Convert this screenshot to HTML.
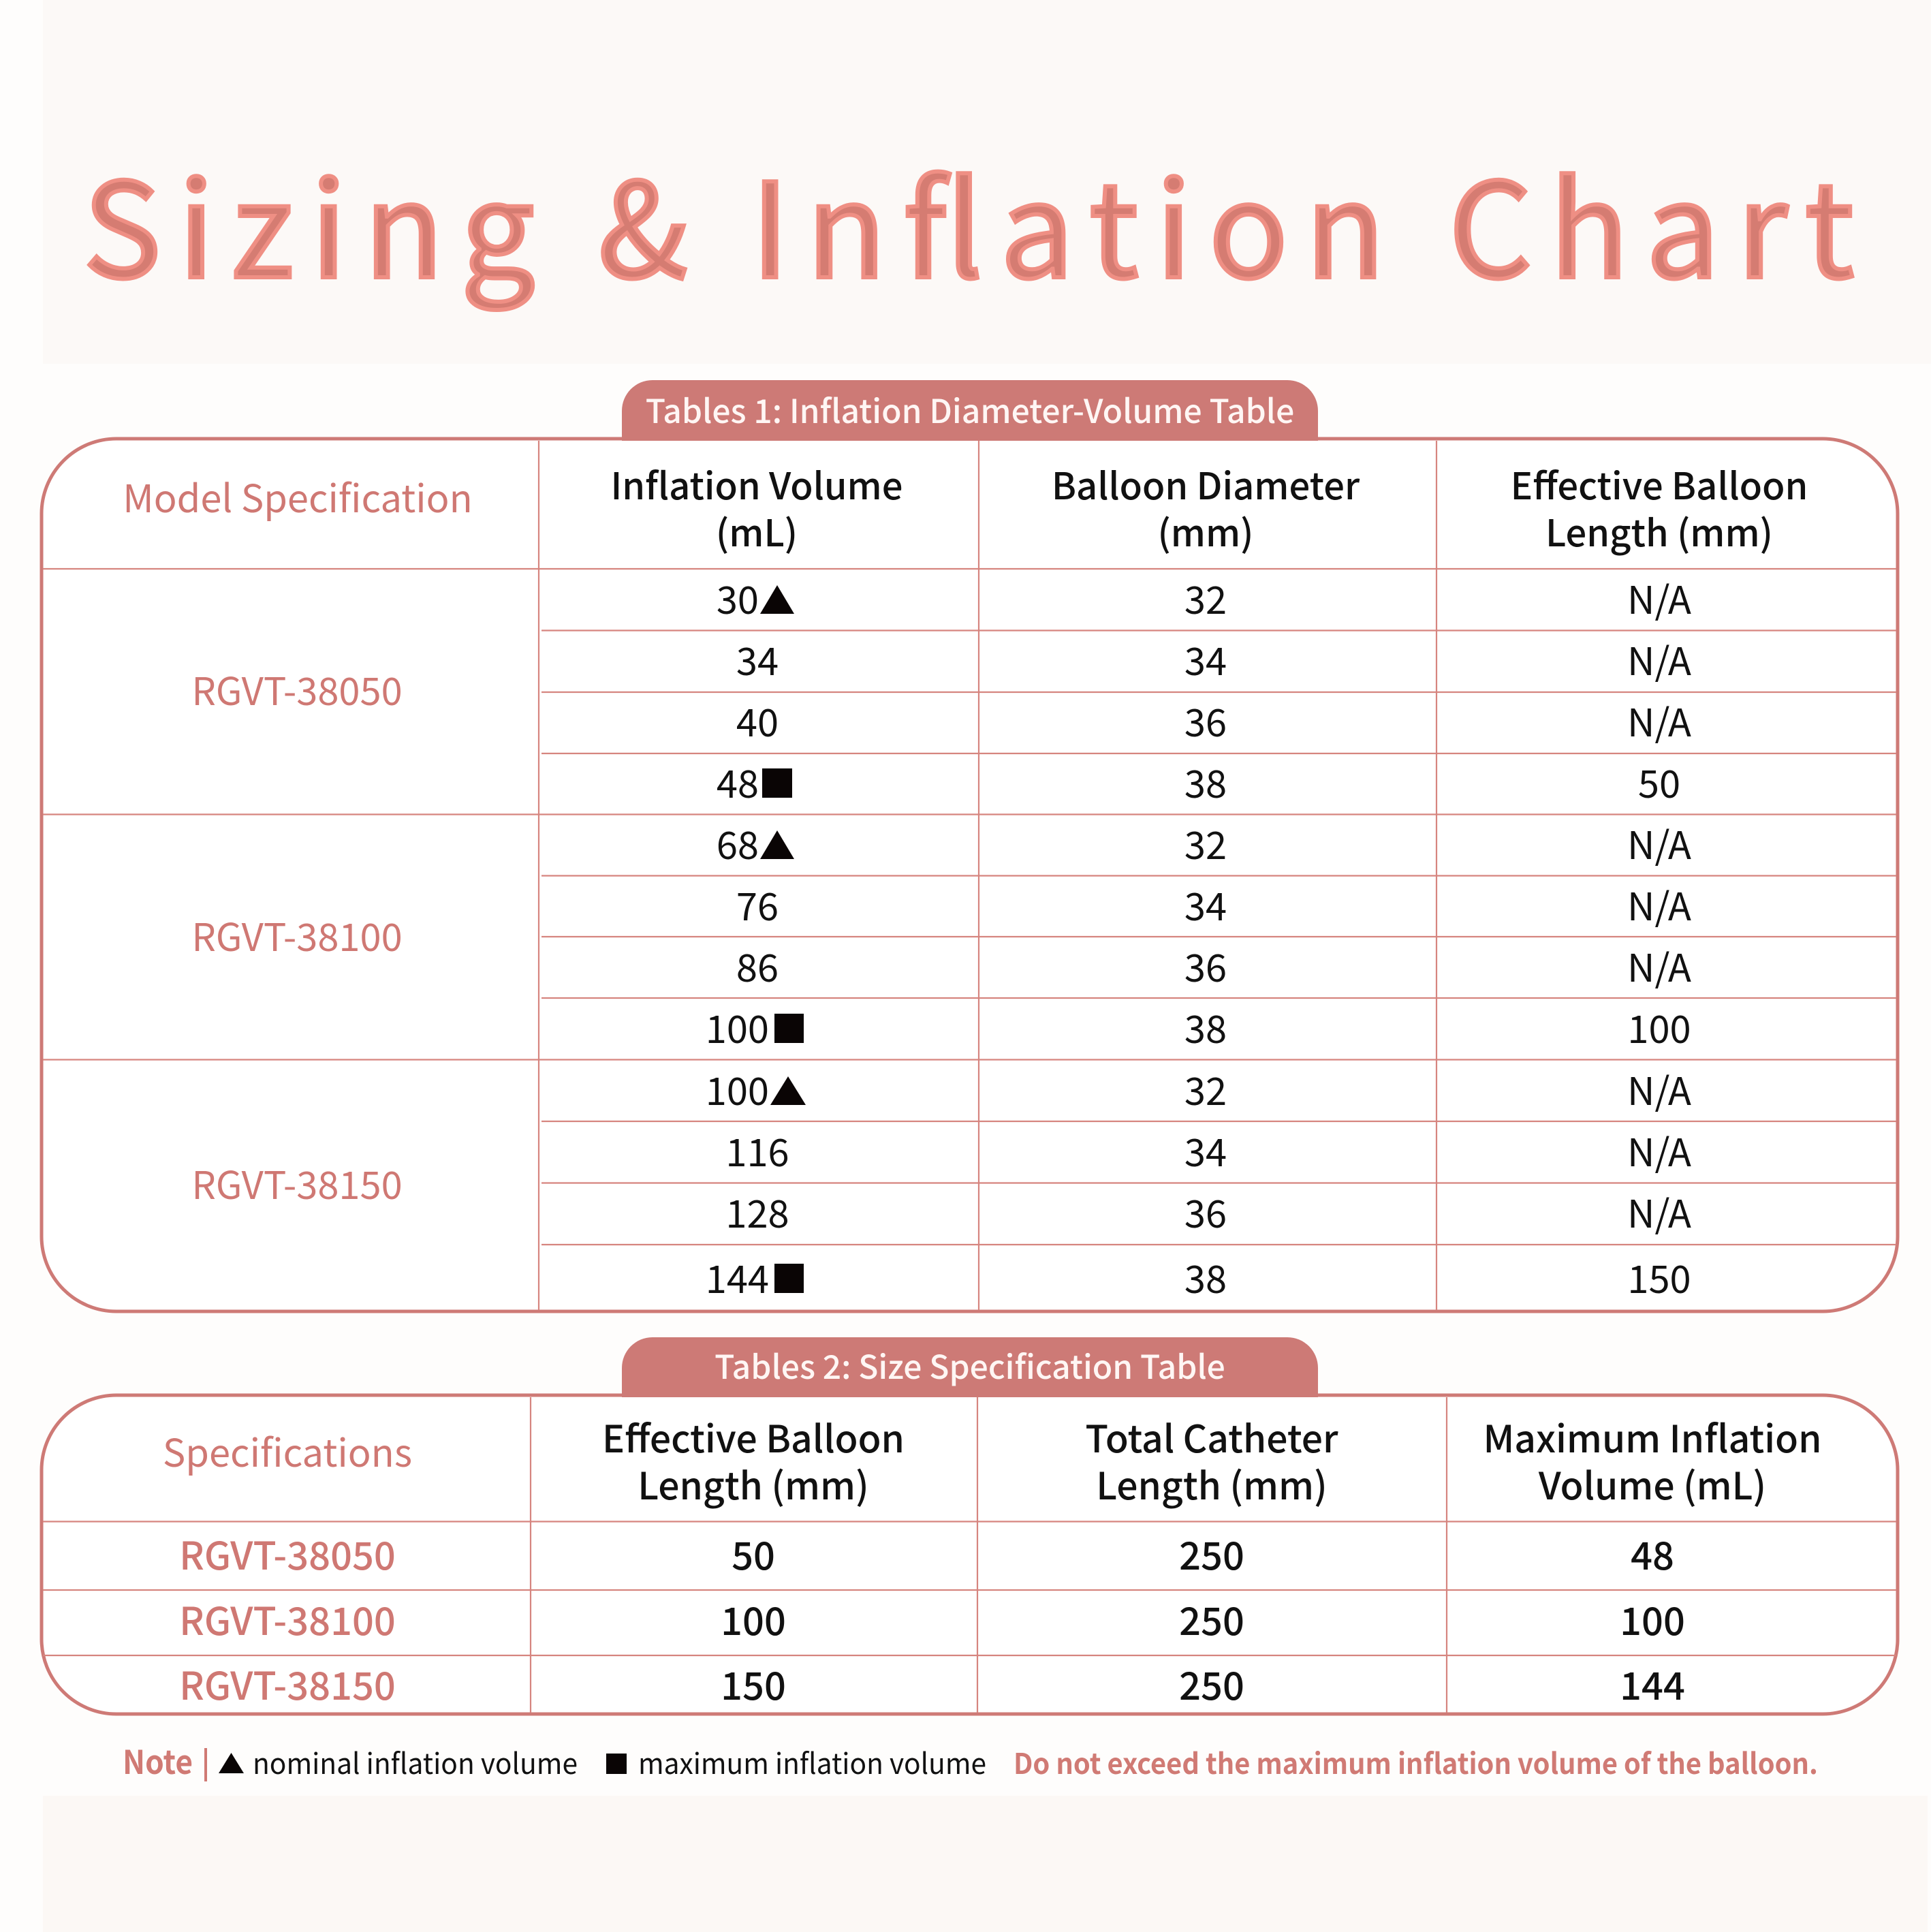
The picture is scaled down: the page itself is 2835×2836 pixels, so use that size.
<!DOCTYPE html>
<html>
<head>
<meta charset="utf-8">
<style>
  html, body { margin:0; padding:0; background:#fefdfc; }
  svg { display:block; }
  text { font-family: "Noto Sans CJK SC", "Liberation Sans", sans-serif; }
</style>
</head>
<body>
<svg width="2835" height="2836" viewBox="0 0 2835 2836" xmlns="http://www.w3.org/2000/svg">
  <!-- background bands -->
  <rect x="0" y="0" width="2835" height="2836" fill="#fefdfc"/>
  <rect x="63" y="0" width="2772" height="534" fill="#fcf9f7"/>
  <rect x="63" y="2636" width="2767" height="200" fill="#fcf8f5"/>

  <!-- Title -->
  <text x="122" y="407" font-size="192" fill="#d57c72" stroke="#ef8f84" stroke-width="6" textLength="2600" lengthAdjust="spacing">Sizing &amp; Inflation Chart</text>

  <!-- ================= TABLE 1 ================= -->
  <rect x="61" y="644" width="2725" height="1281" rx="110" ry="110" fill="#ffffff" stroke="#ce7a76" stroke-width="5"/>
  <!-- tab -->
  <path d="M913,647 L913,603 A45,45 0 0 1 958,558 L1890,558 A45,45 0 0 1 1935,603 L1935,647 Z" fill="#cd7a76"/>
  <text x="1424" y="621" font-size="48" font-weight="500" fill="#fff6f4" text-anchor="middle">Tables 1: Inflation Diameter-Volume Table</text>

  <g stroke="#d6857f" stroke-width="2.2">
    <!-- column lines -->
    <line x1="791" y1="647" x2="791" y2="1923"/>
    <line x1="1437" y1="647" x2="1437" y2="1923"/>
    <line x1="2109" y1="647" x2="2109" y2="1923"/>
    <!-- full lines -->
    <line x1="63" y1="835" x2="2784" y2="835"/>
    <line x1="63" y1="1195.5" x2="2784" y2="1195.5"/>
    <line x1="63" y1="1555.5" x2="2784" y2="1555.5"/>
    <!-- sub-row lines -->
    <line x1="795" y1="925.5" x2="2784" y2="925.5"/>
    <line x1="795" y1="1016" x2="2784" y2="1016"/>
    <line x1="795" y1="1106" x2="2784" y2="1106"/>
    <line x1="795" y1="1285.5" x2="2784" y2="1285.5"/>
    <line x1="795" y1="1375" x2="2784" y2="1375"/>
    <line x1="795" y1="1465" x2="2784" y2="1465"/>
    <line x1="795" y1="1646" x2="2784" y2="1646"/>
    <line x1="795" y1="1736.5" x2="2784" y2="1736.5"/>
    <line x1="795" y1="1827" x2="2784" y2="1827"/>
  </g>

  <!-- header -->
  <g font-size="56" text-anchor="middle">
    <text x="437" y="752" fill="#cf7873">Model Specification</text>
    <g font-size="54.3" font-weight="500" fill="#111">
      <text x="1111" y="733">Inflation Volume</text>
      <text x="1111" y="802">(mL)</text>
      <text x="1770" y="733">Balloon Diameter</text>
      <text x="1770" y="802">(mm)</text>
      <text x="2436" y="733">Effective Balloon</text>
      <text x="2436" y="802">Length (mm)</text>
    </g>

    <!-- model labels -->
    <text x="436" y="1035" fill="#cf7873">RGVT-38050</text>
    <text x="436" y="1396" fill="#cf7873">RGVT-38100</text>
    <text x="436" y="1760" fill="#cf7873">RGVT-38150</text>
  </g>

  <!-- column 2 values with symbols -->
  <g font-size="56" fill="#111" text-anchor="end">
    <text x="1114" y="901">30</text>
    <text x="1114" y="1171">48</text>
    <text x="1114" y="1261">68</text>
    <text x="1129" y="1531">100</text>
    <text x="1129" y="1622">100</text>
    <text x="1129" y="1898">144</text>
  </g>
  <!-- column 2 values without symbols (centered) -->
  <g font-size="56" fill="#111" text-anchor="middle">
    <text x="1112" y="991">34</text>
    <text x="1112" y="1081">40</text>
    <text x="1112" y="1351">76</text>
    <text x="1112" y="1441">86</text>
    <text x="1112" y="1712">116</text>
    <text x="1112" y="1802">128</text>
  </g>
  <g fill="#0a0505">
    <!-- triangles -->
    <polygon points="1116,901 1166,901 1141,859"/>
    <polygon points="1116,1261 1166,1261 1141,1219"/>
    <polygon points="1131,1622 1183,1622 1157,1580"/>
    <!-- squares -->
    <rect x="1119" y="1128" width="44" height="43"/>
    <rect x="1137" y="1488" width="43" height="43"/>
    <rect x="1137" y="1855" width="43" height="43"/>
  </g>

  <!-- column 3 & 4 values -->
  <g font-size="56" fill="#111" text-anchor="middle">
    <text x="1770" y="901">32</text>
    <text x="1770" y="991">34</text>
    <text x="1770" y="1081">36</text>
    <text x="1770" y="1171">38</text>
    <text x="1770" y="1261">32</text>
    <text x="1770" y="1351">34</text>
    <text x="1770" y="1441">36</text>
    <text x="1770" y="1531">38</text>
    <text x="1770" y="1622">32</text>
    <text x="1770" y="1712">34</text>
    <text x="1770" y="1802">36</text>
    <text x="1770" y="1898">38</text>

    <text x="2436" y="901">N/A</text>
    <text x="2436" y="991">N/A</text>
    <text x="2436" y="1081">N/A</text>
    <text x="2436" y="1171">50</text>
    <text x="2436" y="1261">N/A</text>
    <text x="2436" y="1351">N/A</text>
    <text x="2436" y="1441">N/A</text>
    <text x="2436" y="1531">100</text>
    <text x="2436" y="1622">N/A</text>
    <text x="2436" y="1712">N/A</text>
    <text x="2436" y="1802">N/A</text>
    <text x="2436" y="1898">150</text>
  </g>

  <!-- ================= TABLE 2 ================= -->
  <rect x="61" y="2048" width="2725" height="468" rx="110" ry="110" fill="#ffffff" stroke="#ce7a76" stroke-width="5"/>
  <path d="M913,2051 L913,2008 A45,45 0 0 1 958,1963 L1890,1963 A45,45 0 0 1 1935,2008 L1935,2051 Z" fill="#cd7a76"/>
  <text x="1424" y="2024" font-size="48" font-weight="500" fill="#fff6f4" text-anchor="middle">Tables 2: Size Specification Table</text>

  <g stroke="#d6857f" stroke-width="2.2">
    <line x1="779" y1="2051" x2="779" y2="2514"/>
    <line x1="1435" y1="2051" x2="1435" y2="2514"/>
    <line x1="2124" y1="2051" x2="2124" y2="2514"/>
    <line x1="63" y1="2233.5" x2="2784" y2="2233.5"/>
    <line x1="63" y1="2334" x2="2784" y2="2334"/>
    <line x1="63" y1="2430" x2="2784" y2="2430"/>
  </g>

  <g font-size="56" text-anchor="middle" font-weight="500">
    <text x="422" y="2153" fill="#cf7873" font-weight="400">Specifications</text>
    <g font-size="55.2" fill="#111">
      <text x="1106" y="2132">Effective Balloon</text>
      <text x="1106" y="2201">Length (mm)</text>
      <text x="1779" y="2132">Total Catheter</text>
      <text x="1779" y="2201">Length (mm)</text>
      <text x="2426" y="2132">Maximum Inflation</text>
      <text x="2426" y="2201">Volume (mL)</text>
    </g>

    <text x="422" y="2304" fill="#cf7873">RGVT-38050</text>
    <text x="422" y="2400" fill="#cf7873">RGVT-38100</text>
    <text x="422" y="2495" fill="#cf7873">RGVT-38150</text>

    <text x="1106" y="2304" fill="#111">50</text>
    <text x="1106" y="2400" fill="#111">100</text>
    <text x="1106" y="2495" fill="#111">150</text>

    <text x="1779" y="2304" fill="#111">250</text>
    <text x="1779" y="2400" fill="#111">250</text>
    <text x="1779" y="2495" fill="#111">250</text>

    <text x="2426" y="2304" fill="#111">48</text>
    <text x="2426" y="2400" fill="#111">100</text>
    <text x="2426" y="2495" fill="#111">144</text>
  </g>

  <!-- ================= NOTE ================= -->
  <text x="180" y="2604" font-size="48" font-weight="700" fill="#d07a74" textLength="103" lengthAdjust="spacingAndGlyphs">Note</text>
  <rect x="300" y="2566" width="4" height="49" fill="#d07a74"/>
  <polygon points="321,2603 358,2603 339.5,2573" fill="#0a0505"/>
  <text x="371" y="2604" font-size="42" fill="#111" textLength="477" lengthAdjust="spacingAndGlyphs">nominal inflation volume</text>
  <rect x="890" y="2574" width="30" height="30" fill="#0a0505"/>
  <text x="937" y="2604" font-size="42" fill="#111" textLength="511" lengthAdjust="spacingAndGlyphs">maximum inflation volume</text>
  <text x="1488" y="2604" font-size="42" font-weight="700" fill="#d07a74" textLength="1181" lengthAdjust="spacingAndGlyphs">Do not exceed the maximum inflation volume of the balloon.</text>
</svg>
</body>
</html>
